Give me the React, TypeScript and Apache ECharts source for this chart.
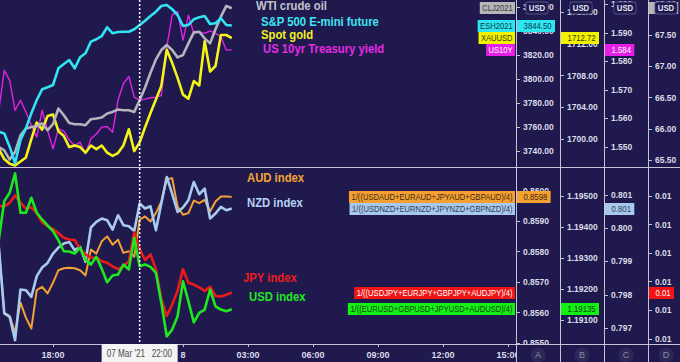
import React, { useEffect, useRef } from 'react';
import * as echarts from 'echarts';

// time: hours since 00:00 on 7 Mar 2021, one point every 15 minutes from 15:30
const START_HOUR = 15.5;
const STEP_HOURS = 0.25;
const CROSS_HOUR = 22;
const X_MIN = 15;
const X_MAX = 39.37;

const SP500 = [3756.1, 3754.7, 3743.6, 3729.7, 3749.2, 3758.9, 3771.4, 3782.5, 3791.4, 3793.1, 3795.0, 3808.9, 3812.5, 3815.8, 3808.9, 3818.1, 3821.4, 3831.1, 3833.1, 3835.8, 3843.1, 3838.1, 3839.2, 3839.4, 3839.4, 3841.4, 3845.0, 3848.6, 3852.5, 3856.1, 3860.8, 3861.7, 3858.1, 3853.3, 3844.2, 3845.0, 3849.7, 3851.4, 3852.5, 3845.8, 3846.4, 3850.6, 3845.0, 3844.5];
const GOLD = [1698.75, 1697.5, 1696.9, 1696.7, 1697.2, 1697.7, 1700.0, 1702.1, 1701.2, 1702.9, 1703.1, 1701.0, 1700.4, 1699.0, 1699.2, 1699.0, 1698.3, 1699.2, 1698.75, 1699.2, 1698.3, 1697.9, 1698.25, 1699.2, 1701.25, 1698.5, 1699.6, 1701.5, 1703.3, 1705.0, 1706.7, 1711.25, 1709.6, 1707.7, 1705.6, 1705.1, 1707.3, 1706.75, 1712.3, 1708.5, 1709.2, 1713.1, 1713.1, 1712.72];
const US10Y = [1.5628, 1.5768, 1.5733, 1.5628, 1.5663, 1.5622, 1.5575, 1.5534, 1.5628, 1.5557, 1.5493, 1.5563, 1.5555, 1.5524, 1.5504, 1.5516, 1.5475, 1.5528, 1.5545, 1.5569, 1.5571, 1.5551, 1.5663, 1.5721, 1.5747, 1.5674, 1.5663, 1.5667, 1.5672, 1.5674, 1.568, 1.585, 1.5962, 1.5974, 1.5874, 1.5962, 1.5898, 1.5903, 1.5898, 1.5907, 1.5898, 1.5886, 1.5839, 1.584];
const WTI = [65.71, 65.657, 65.508, 65.63, 65.897, 66.005, 66.03, 66.042, 66.085, 65.978, 66.074, 66.325, 66.218, 66.095, 66.074, 66.074, 66.058, 66.154, 66.165, 66.181, 66.245, 66.271, 66.309, 66.298, 66.298, 66.271, 66.458, 66.662, 66.896, 67.11, 67.26, 67.34, 67.26, 67.143, 67.18, 67.367, 67.543, 67.553, 67.447, 67.367, 67.591, 67.793, 67.965, 67.928];

const AUD = [0.858176, 0.856, 0.855889, 0.855346, 0.856327, 0.855837, 0.855477, 0.856739, 0.856849, 0.856631, 0.85698, 0.857392, 0.857458, 0.857471, 0.857458, 0.857392, 0.857219, 0.858069, 0.857938, 0.85834, 0.858503, 0.858232, 0.858395, 0.857961, 0.858013, 0.85783, 0.859049, 0.859157, 0.858993, 0.859268, 0.859647, 0.860379, 0.860412, 0.859484, 0.859212, 0.859268, 0.85968, 0.859595, 0.859703, 0.85932, 0.859647, 0.85981, 0.85981, 0.8598];
const NZD = [0.799439, 0.797438, 0.797336, 0.796637, 0.798159, 0.798138, 0.797937, 0.798559, 0.79882, 0.798958, 0.79924, 0.79942, 0.79954, 0.799589, 0.799339, 0.799439, 0.798988, 0.800021, 0.800189, 0.800291, 0.80024, 0.799961, 0.80039, 0.80009, 0.80006, 0.799919, 0.800742, 0.800592, 0.800661, 0.79994, 0.800742, 0.801541, 0.801042, 0.80049, 0.800622, 0.800841, 0.80139, 0.801021, 0.801192, 0.800291, 0.800441, 0.80064, 0.80054, 0.800592];
const JPY = [0.0085032, 0.0085032, 0.0085038, 0.0085051, 0.0085038, 0.0085028, 0.008503, 0.008502, 0.0085004, 0.0084997, 0.0084992, 0.0084985, 0.0084977, 0.0084974, 0.0084973, 0.0084958, 0.0084948, 0.0084942, 0.0084942, 0.0084936, 0.0084933, 0.0084927, 0.0084922, 0.0084927, 0.0084936, 0.0084986, 0.0084957, 0.0084938, 0.0084948, 0.0084922, 0.0084869, 0.008484, 0.008486, 0.0084884, 0.0084922, 0.0084898, 0.0084895, 0.008489, 0.0084884, 0.0084891, 0.0084875, 0.0084874, 0.0084877, 0.0084881];
const USD = [1.193597, 1.194832, 1.195103, 1.195726, 1.194458, 1.194458, 1.194942, 1.194458, 1.194242, 1.194048, 1.193865, 1.193574, 1.193219, 1.19321, 1.193145, 1.193329, 1.192952, 1.19279, 1.193039, 1.192652, 1.192219, 1.192435, 1.192468, 1.19279, 1.192629, 1.193652, 1.192736, 1.19279, 1.192715, 1.192522, 1.191555, 1.190477, 1.190694, 1.191123, 1.192252, 1.191607, 1.190929, 1.191232, 1.191339, 1.191984, 1.191445, 1.191339, 1.191284, 1.19135];

const BG = '#1f194e';
const LINE = '#c4c4d6';
const FONT = "'Liberation Sans', Arial, sans-serif";

type SeriesDef = {
  name: string; data: number[]; color: string; width: number; axis: number; grid: number;
  legend: string; legendX: number; legendY: number; legendColor: string;
  box: string; boxBg: string; boxFg: string; digits: number;
};

const SERIES: SeriesDef[] = [
  { name: 'US10Y', data: US10Y, color: '#e322e3', width: 1.4, axis: 2, grid: 0, legend: 'US 10yr Treasury yield', legendX: 263, legendY: 48.5, legendColor: '#e62ae6', box: 'US10Y', boxBg: '#e61ee6', boxFg: '#ffffff', digits: 3 },
  { name: 'Gold', data: GOLD, color: '#f4f418', width: 2.6, axis: 1, grid: 0, legend: 'Spot gold', legendX: 261, legendY: 35, legendColor: '#f2f21e', box: 'XAUUSD', boxBg: '#f2f200', boxFg: '#3a3a00', digits: 2 },
  { name: 'WTI', data: WTI, color: '#b4b4bc', width: 2.6, axis: 3, grid: 0, legend: 'WTI crude oil', legendX: 256, legendY: 6, legendColor: '#c2c2ca', box: 'CLJ2021', boxBg: '#b6b6b6', boxFg: '#3a3a3a', digits: 2 },
  { name: 'SP500', data: SP500, color: '#30e4f4', width: 2.6, axis: 0, grid: 0, legend: 'S&P 500 E-mini future', legendX: 261, legendY: 22, legendColor: '#3ee6f2', box: 'ESH2021', boxBg: '#2ee6f2', boxFg: '#0c3a48', digits: 2 },
  { name: 'AUD', data: AUD, color: '#f2a232', width: 2, axis: 4, grid: 1, legend: 'AUD index', legendX: 247, legendY: 177.5, legendColor: '#f4a432', box: '1/((USDAUD+EURAUD+JPYAUD+GBPAUD)/4)', boxBg: '#f5a030', boxFg: '#3c2a10', digits: 4 },
  { name: 'NZD', data: NZD, color: '#a8caee', width: 2.6, axis: 6, grid: 1, legend: 'NZD index', legendX: 247, legendY: 203, legendColor: '#b4d2f2', box: '1/((USDNZD+EURNZD+JPYNZD+GBPNZD)/4)', boxBg: '#a8c8ec', boxFg: '#30405a', digits: 3 },
  { name: 'JPY', data: JPY, color: '#ee1a1a', width: 2.6, axis: 7, grid: 1, legend: 'JPY index', legendX: 243, legendY: 278, legendColor: '#ec1c1c', box: '1/((USDJPY+EURJPY+GBPJPY+AUDJPY)/4)', boxBg: '#f01414', boxFg: '#ffffff', digits: 2 },
  { name: 'USD', data: USD, color: '#1ee81e', width: 2.6, axis: 5, grid: 1, legend: 'USD index', legendX: 249, legendY: 297, legendColor: '#22e622', box: '1/((EURUSD+GBPUSD+JPYUSD+AUDUSD)/4)', boxBg: '#14f014', boxFg: '#104010', digits: 5 },
];

// y axes: [grid, offset, min, max, step, digits]
const Y_AXES: [number, number, number, number, number, number][] = [
  [0, 0, 3726.7, 3865.8, 20, 2],
  [0, 44, 1696.5, 1717.5, 4, 2],
  [0, 88, 1.5429, 1.6015, 0.01, 3],
  [0, 132, 65.39, 68.06, 0.5, 2],
  [1, 0, 0.85497, 0.860748, 0.001, 4],
  [1, 44, 1.19023, 1.1959, 0.001, 5],
  [1, 88, 0.79652, 0.80181, 0.001, 3],
  [1, 132, 0.0084791, 0.0085099, 0.000005, 2],
];

const AXIS_X = [516, 560, 604, 648];
const AXIS_LETTERS = ['A', 'B', 'C', 'D'];
const HEADER_X = [537, 581, 625, 666];

function hourLabel(v: number): string {
  const h = Math.round(v);
  if (h % 24 === 0) return String(7 + h / 24);
  const hh = h % 24;
  return (hh < 10 ? '0' : '') + hh + ':00';
}

// narrow text: horizontally condensed text element anchored at (x, y)
function ntext(x: number, y: number, sx: number, z: number, style: any) {
  return { type: 'text', x, y, scaleX: sx, z, style: { x: 0, y: 0, verticalAlign: 'middle', ...style } };
}

export default function App() {
  const ref = useRef<HTMLDivElement>(null);
  useEffect(() => {
    const chart = echarts.init(ref.current!, null, { renderer: 'svg' });
    const hours = SP500.map((_, i) => START_HOUR + i * STEP_HOURS);

    const xAxisBase = { type: 'value', min: X_MIN, max: X_MAX, minInterval: 3, maxInterval: 3, splitLine: { show: false } };

    chart.setOption({
      animation: false,
      backgroundColor: BG,
      grid: [
        { left: -12, right: 164, top: 0, height: 167, outerBoundsMode: 'none', containLabel: false },
        { left: -12, right: 164, top: 168, height: 176, outerBoundsMode: 'none', containLabel: false },
      ],
      xAxis: [
        { ...xAxisBase, gridIndex: 0, show: false },
        {
          ...xAxisBase, gridIndex: 1,
          axisLine: { show: false },
          axisTick: { show: true, length: 3, lineStyle: { color: LINE } },
          axisLabel: {
            color: '#dcdce8', fontSize: 9, fontWeight: 'bold', fontFamily: FONT, margin: 6,
            showMinLabel: false, showMaxLabel: false, formatter: (v: number) => hourLabel(v),
          },
        },
      ],
      yAxis: Y_AXES.map(([grid, offset, min, max, step, digits]) => ({
        type: 'value', gridIndex: grid, position: 'right', offset, min, max,
        minInterval: step, maxInterval: step,
        splitLine: { show: false },
        axisLine: { show: false },
        axisTick: { show: true, length: 4, lineStyle: { color: LINE } },
        axisLabel: {
          color: '#dcdce8', fontSize: 8.5, fontWeight: 'bold', fontFamily: FONT, margin: 7,
          showMinLabel: false, showMaxLabel: false,
          formatter: (v: number) => v.toFixed(digits),
        },
      })),
      series: SERIES.map((s) => ({
        type: 'line', name: s.name, xAxisIndex: s.grid, yAxisIndex: s.axis,
        data: s.data.map((v, i) => [hours[i], v]),
        showSymbol: false, symbol: 'none', silent: true, clip: true,
        lineStyle: { color: s.color, width: s.width, join: 'round' },
      })),
    });

    const yPx = (axis: number, v: number) => chart.convertToPixel({ yAxisIndex: axis }, v) as number;
    const crossX = chart.convertToPixel({ xAxisIndex: 1 }, CROSS_HOUR) as number;

    const g: any[] = [];
    // cover for the clipped right end of the time labels
    g.push({ type: 'rect', z: 50, shape: { x: 517, y: 345, width: 163, height: 17 }, style: { fill: BG } });
    // panel separators
    AXIS_X.forEach((x) => g.push({ type: 'line', z: 60, shape: { x1: x + 0.5, y1: 0, x2: x + 0.5, y2: 362 }, style: { stroke: LINE, lineWidth: 1 } }));
    g.push({ type: 'line', z: 60, shape: { x1: 0, y1: 167.5, x2: 680, y2: 167.5 }, style: { stroke: LINE, lineWidth: 1 } });
    g.push({ type: 'line', z: 60, shape: { x1: 0, y1: 344.5, x2: 680, y2: 344.5 }, style: { stroke: LINE, lineWidth: 1 } });
    // crosshair
    g.push({ type: 'line', z: 61, shape: { x1: crossX, y1: 0, x2: crossX, y2: 344 }, style: { stroke: '#ffffff', lineWidth: 1.5, lineDash: [2, 2] } });
    g.push({ type: 'rect', z: 62, shape: { x: crossX - 38, y: 344, width: 76, height: 18 }, style: { fill: '#f4f4f4' } });
    g.push(ntext(crossX - 33, 354, 0.82, 63, { text: "07 Mar '21", align: 'left', fill: '#4a4a4a', font: `10px ${FONT}` }));
    g.push(ntext(crossX + 12, 354, 0.82, 63, { text: '22:00', align: 'left', fill: '#4a4a4a', font: `10px ${FONT}` }));

    // legends and last value labels
    SERIES.forEach((s) => {
      g.push(ntext(s.legendX, s.legendY, 0.87, 70, { text: s.legend, align: 'left', fill: s.legendColor, font: `bold 13px ${FONT}` }));
      const last = s.data[s.data.length - 1];
      const y = Math.round(yPx(s.axis, last));
      const ax = AXIS_X[s.axis % 4];
      g.push(ntext(515, y, 0.8, 72, { text: s.box, align: 'right', fill: s.boxFg, font: `9.5px ${FONT}`, backgroundColor: s.boxBg, padding: [1, 3, 1, 3] }));
      g.push(ntext(ax + 1, y, 0.82, 72, { text: last.toFixed(s.digits), align: 'left', fill: s.boxFg, font: `9.5px ${FONT}`, backgroundColor: s.boxBg, padding: [1, 4, 1, 8] }));
    });

    // currency headers
    HEADER_X.forEach((cx) => {
      g.push(ntext(cx, 8, 0.82, 80, { text: 'USD', align: 'center', fill: '#e4e4f0', font: `bold 9.5px ${FONT}`, backgroundColor: BG, borderColor: '#56568c', borderWidth: 1, borderRadius: 2, padding: [1, 3, 0, 3] }));
    });

    // scale letters
    AXIS_X.forEach((x, i) => {
      const cx = i < 3 ? (x + AXIS_X[i + 1]) / 2 : HEADER_X[3];
      g.push({ type: 'circle', z: 80, shape: { cx, cy: 355, r: 7.5 }, style: { fill: '#2d2858' } });
      g.push({ type: 'text', z: 81, style: { text: AXIS_LETTERS[i], x: cx, y: 355, align: 'center', verticalAlign: 'middle', fill: '#8a8aa8', font: `9px ${FONT}` } });
    });

    chart.setOption({ graphic: { elements: g } });
    return () => chart.dispose();
  }, []);

  return <div ref={ref} style={{ position: 'fixed', left: 0, top: 0, width: 680, height: 362, background: BG }} />;
}
